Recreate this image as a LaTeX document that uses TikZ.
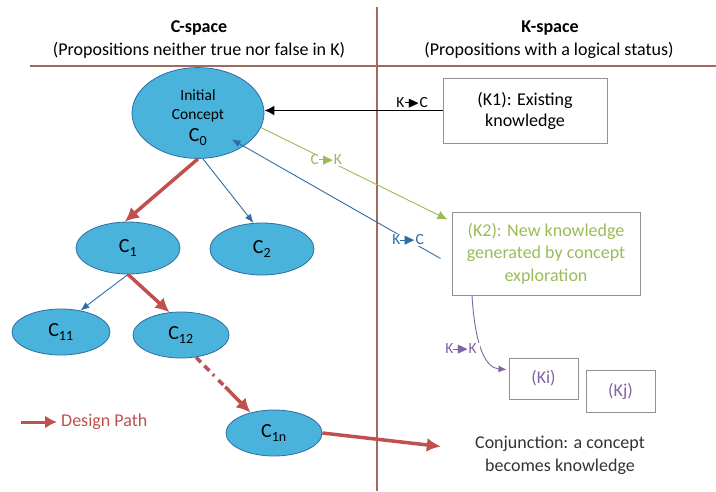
\documentclass[tikz,border=0pt]{standalone}
\usepackage{fontspec}
\setmainfont{Carlito}
\usepackage{amssymb}
\usetikzlibrary{arrows.meta,shapes.geometric,calc}

\definecolor{conceptblue}{HTML}{4AB3DC}
\definecolor{edgeblue}{HTML}{2E6DA4}
\definecolor{pathred}{HTML}{C0504D}
\definecolor{knowgreen}{HTML}{9BBB59}
\definecolor{knowpurple}{HTML}{8064A2}
\definecolor{boxgray}{HTML}{8E9196}
\definecolor{splitbrown}{HTML}{A06A5C}

\newcommand{\kcarrow}{\rule[0.28em]{0.45em}{1pt}\kern-0.25em\raisebox{0.02em}{$\blacktriangleright$}}
\newcommand{\smalltxt}{\fontsize{15.5}{18}\selectfont}

\begin{document}
\begin{tikzpicture}[x=1pt, y=-1pt,
    concept/.style={ellipse, draw=edgeblue, fill=conceptblue, line width=0.8pt, inner sep=0pt, font=\fontsize{20}{22}\selectfont},
    kbox/.style={draw=boxgray, line width=1pt, align=center, inner sep=0pt, font=\fontsize{18}{21}\selectfont},
    divider/.style={draw=splitbrown, line width=1.5pt},
    design/.style={pathred, line width=3.5pt, -{Latex[length=14pt, width=14pt]}},
    tree/.style={edgeblue, line width=0.9pt, -{Latex[length=9pt, width=7pt]}},
    lbl/.style={fill=white, inner sep=1pt, font=\fontsize{15.5}{17}\selectfont},
    body/.style={font=\fontsize{18}{23}\selectfont, align=center}]

    \useasboundingbox (0,0) rectangle (716,491);

    % dividing lines
    \draw[divider] (377,7) -- (377,491);
    \draw[divider] (30,66) -- (716,66);

    % headers
    \node[font=\fontsize{18}{20}\selectfont\bfseries] (chead) at (199,28) {C-space};
    \node[font=\fontsize{18}{20}\selectfont] (csub) at (199,50) {(Propositions neither true nor false in K)};
    \node[font=\fontsize{18}{20}\selectfont\bfseries] (khead) at (550,28) {K-space};
    \node[font=\fontsize{18}{20}\selectfont] (ksub) at (549,50) {(Propositions with a logical status)};

    % concept tree
    \node[concept, minimum width=132pt, minimum height=78pt, align=center] (c0) at (198,113)
        {\smalltxt\rule{0pt}{20pt}Initial\\[-3pt]\smalltxt Concept\\[0pt]C\textsubscript{0}};
    \node[concept, minimum width=104pt, minimum height=52pt] (c1) at (128,248) {C\textsubscript{1}};
    \node[concept, minimum width=104pt, minimum height=52pt] (c2) at (262,249) {C\textsubscript{2}};
    \node[concept, minimum width=98pt, minimum height=46pt] (c11) at (61,332) {C\textsubscript{11}};
    \node[concept, minimum width=96pt, minimum height=46pt] (c12) at (181,335) {C\textsubscript{12}};
    \node[concept, minimum width=96pt, minimum height=46pt] (c1n) at (274,433) {C\textsubscript{1n}};

    % knowledge boxes
    \node[kbox, minimum width=164pt, minimum height=65pt] (k1) at (525,110.5) {(K1): Existing\\knowledge};
    \node[kbox, minimum width=188pt, minimum height=83pt, text=knowgreen, font=\fontsize{18}{22.5}\selectfont] (k2) at (546,253.5)
        {(K2): New knowledge\\generated by concept\\exploration};
    \node[kbox, minimum width=69pt, minimum height=41pt, text=knowpurple] (ki) at (543.5,378.5) {(Ki)};
    \node[kbox, minimum width=69pt, minimum height=42pt, text=knowpurple] (kj) at (620.5,391) {(Kj)};

    \node[body, text=black!80] (conj) at (560,455) {Conjunction: a concept\\becomes knowledge};

    % design path
    \draw[design] (c0.south) -- (c1.97);
    \draw[design] (c1.south) -- (c12.117);
    \coordinate (gap) at ($(c12.-56)!0.5!(c1n.139)$);
    \draw[pathred, line width=3.5pt, dash pattern=on 7pt off 5pt on 7pt off 5pt on 2pt off 6pt] (c12.-56) -- (gap);
    \draw[design] ([shift={(2pt,-2pt)}]gap) -- (c1n.139);
    \draw[design, shorten >=31pt] (c1n.east) -- ([yshift=5pt]conj.west);

    % other branches
    \draw[tree] (c0.-84) -- (c2.108);
    \draw[tree] (c1.south) -- (c11.48);

    % K -> C and C -> K
    \draw[line width=1.5pt, -{Latex[length=10pt, width=10pt]}] (k1.west) -- (c0.east |- k1.west)
        node[pos=0.17, above, inner sep=2pt, font=\fontsize{15.5}{17}\selectfont] (kclabel) {K\kcarrow C};
    \draw[knowgreen, line width=0.9pt, -{Latex[length=10pt, width=9pt]}] (c0.-13) -- ([shift={(-4pt,-8pt)}]k2.north west)
        node[lbl, pos=0.35, text=knowgreen] (cklabel) {C\kcarrow K};
    \draw[tree, shorten >=-14pt] ([shift={(-11pt,-5pt)}]k2.west) -- (c0.-36)
        node[lbl, pos=0.165, text=edgeblue] (kc2label) {K\kcarrow C};

    % K -> K
    \draw[knowpurple, line width=0.9pt, -{Latex[length=8pt, width=7pt]}] ([xshift=-74pt]k2.south)
        .. controls (475,345) and (485,368) .. ([shift={(-2pt,9pt)}]ki.west);
    \node[lbl, inner xsep=3pt, text=knowpurple] (kklabel) at (461,349) {K\kcarrow K};

    % legend
    \coordinate (legstart) at (21,422);
    \node[anchor=west, inner sep=2pt, text=pathred, font=\fontsize{18}{20}\selectfont] (legend) at (59,422) {Design Path};
    \draw[design, line width=3pt, -{Latex[length=12pt, width=13pt]}, shorten >=2pt] (legstart) -- (legend.west);

\end{tikzpicture}
\end{document}
